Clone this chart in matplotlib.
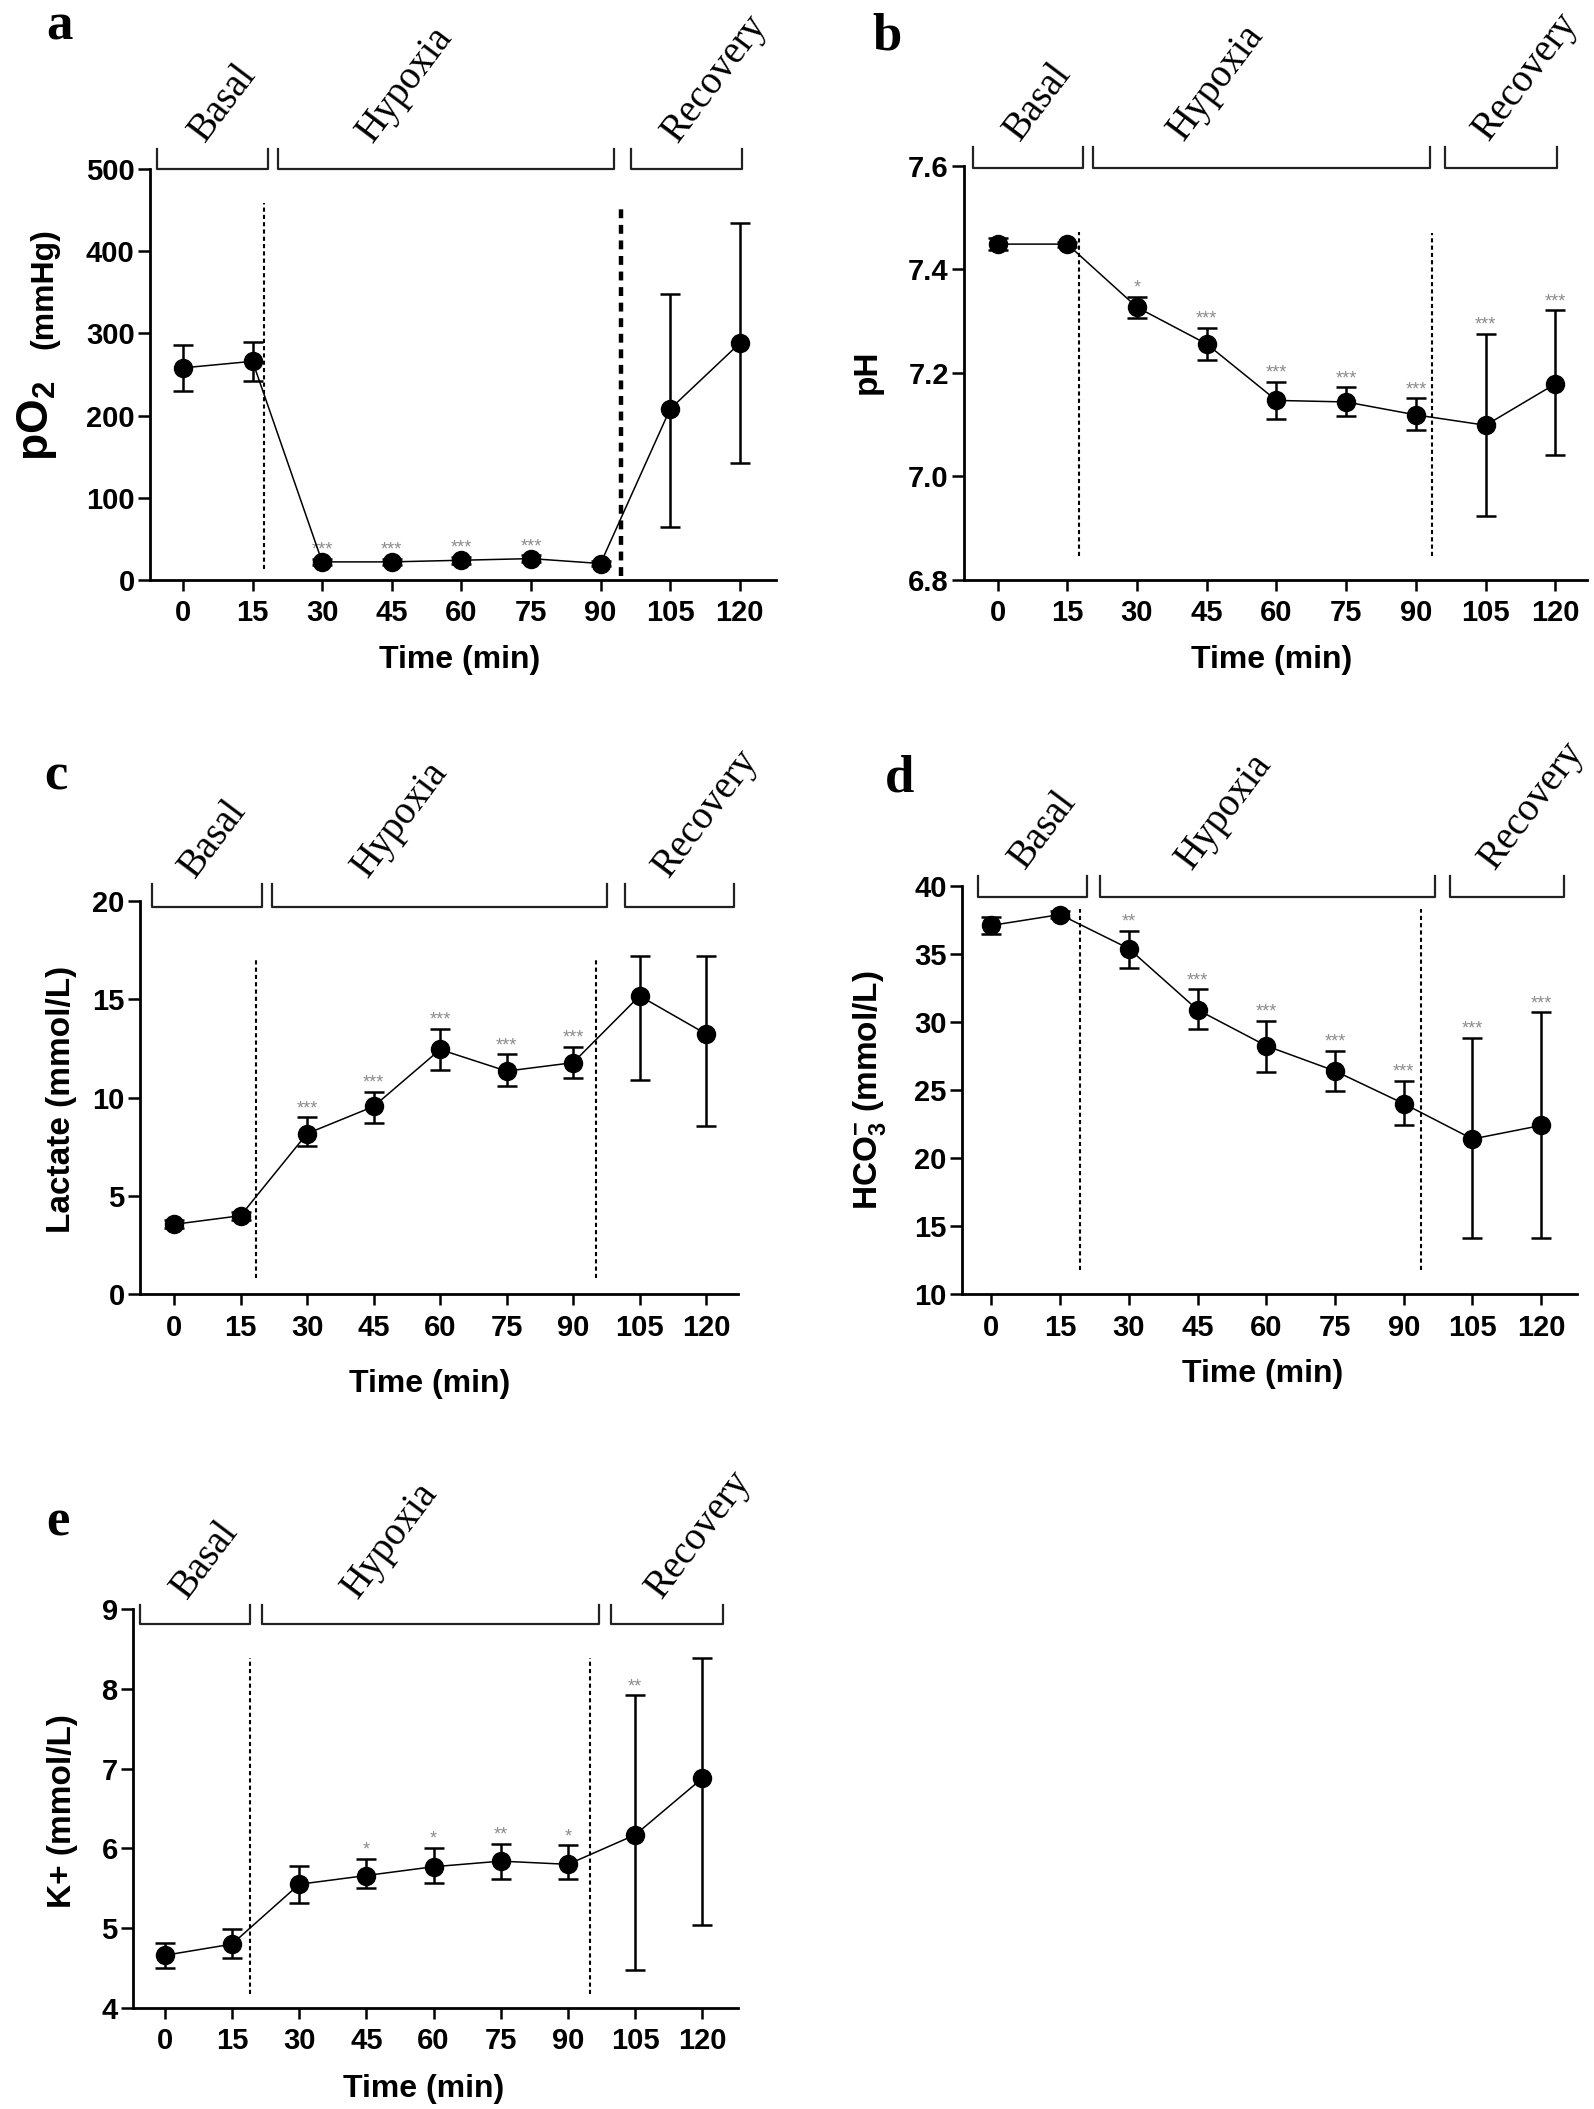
import matplotlib.pyplot as plt
from matplotlib import transforms

plt.rcParams['font.family'] = ['Liberation Sans', 'DejaVu Sans']
plt.rcParams['font.weight'] = 'bold'
plt.rcParams['axes.labelweight'] = 'bold'
plt.rcParams['mathtext.fontset'] = 'custom'
plt.rcParams['mathtext.rm'] = 'Liberation Sans:bold'
plt.rcParams['mathtext.bf'] = 'Liberation Sans:bold'
plt.rcParams['mathtext.it'] = 'Liberation Sans:bold'

time = [0, 15, 30, 45, 60, 75, 90, 105, 120]
phases = ['Basal', 'Hypoxia', 'Recovery']

# a: pO2 (mmHg)
po2_mean = [258, 266, 22, 22, 24, 26, 20, 208, 288]
po2_lo = [28, 24, 4, 4, 4, 4, 3, 144, 146]
po2_hi = [28, 24, 4, 4, 4, 4, 3, 140, 146]
po2_stars = ['', '', '***', '***', '***', '***', '', '', '']

# b: pH
ph_mean = [7.449, 7.449, 7.327, 7.256, 7.147, 7.144, 7.119, 7.099, 7.179]
ph_lo = [0.012, 0.005, 0.021, 0.030, 0.036, 0.028, 0.029, 0.175, 0.138]
ph_hi = [0.012, 0.005, 0.020, 0.031, 0.036, 0.028, 0.032, 0.177, 0.142]
ph_stars = ['', '', '*', '***', '***', '***', '***', '***', '***']

# c: lactate (mmol/L)
lac_mean = [3.55, 3.99, 8.17, 9.55, 12.45, 11.35, 11.78, 15.18, 13.24]
lac_lo = [0.2, 0.2, 0.65, 0.85, 1.05, 0.75, 0.78, 4.28, 4.67]
lac_hi = [0.2, 0.2, 0.83, 0.75, 1.05, 0.85, 0.82, 2.02, 3.96]
lac_stars = ['', '', '***', '***', '***', '***', '***', '', '']

# d: HCO3- (mmol/L)
hco3_mean = [37.1, 37.9, 35.4, 30.9, 28.25, 26.4, 24.0, 21.4, 22.4]
hco3_lo = [0.6, 0.25, 1.4, 1.4, 1.95, 1.5, 1.6, 7.3, 8.3]
hco3_hi = [0.6, 0.25, 1.3, 1.5, 1.85, 1.5, 1.7, 7.45, 8.3]
hco3_stars = ['', '', '**', '***', '***', '***', '***', '***', '***']

# e: K+ (mmol/L)
k_mean = [4.66, 4.80, 5.55, 5.66, 5.77, 5.84, 5.80, 6.17, 6.88]
k_lo = [0.16, 0.17, 0.23, 0.16, 0.20, 0.23, 0.19, 1.70, 1.84]
k_hi = [0.16, 0.19, 0.23, 0.21, 0.24, 0.22, 0.24, 1.75, 1.51]
k_stars = ['', '', '', '*', '*', '**', '*', '**', '']


def draw_panel(ax, mean, lo, hi, stars, cfg):
    ax.errorbar(time, mean, yerr=[lo, hi], fmt='o-', color='black', ms=13,
                lw=1.1, elinewidth=1.8, capsize=7, capthick=1.8, zorder=3)
    for t, m, h, s in zip(time, mean, hi, stars):
        if s:
            ax.annotate(s, (t, m + h), xytext=(0, 0), textcoords='offset points',
                        ha='center', va='bottom', color='#8c8c8c', fontsize=13,
                        fontweight='normal')
    for x, y0, y1, lw in cfg['vlines']:
        ax.plot([x, x], [y0, y1], color='black', lw=lw, ls=(0, (2, 1.5)), zorder=2)

    trans = transforms.blended_transform_factory(ax.transData, ax.transAxes)
    yb, yt = cfg['bracket_y']
    for (x0, x1), name, tx in zip(cfg['brackets'], phases, cfg['label_x']):
        ax.plot([x0, x0, x1, x1], [yt, yb, yb, yt], transform=trans,
                color='#222222', lw=1.6, clip_on=False)
        ax.text(tx, yt, name, transform=trans, rotation=53, ha='left', va='bottom',
                family='Liberation Serif', fontweight='normal', fontsize=28)

    ax.set_xlim(*cfg['xlim'])
    ax.set_ylim(*cfg['ylim'])
    ax.set_xticks(time)
    ax.set_yticks(cfg['yticks'])
    ax.set_yticklabels(cfg['yticklabels'])
    ax.tick_params(axis='both', direction='out', width=1.8, labelsize=21)
    ax.tick_params(axis='x', length=8, pad=6)
    ax.tick_params(axis='y', length=9, pad=2)
    for side in ['top', 'right']:
        ax.spines[side].set_visible(False)
    for side in ['left', 'bottom']:
        ax.spines[side].set_linewidth(2)

    ax.set_xlabel('Time (min)', fontsize=23, va='center')
    ax.xaxis.set_label_coords(*cfg['xlabel_pos'])
    if cfg['ylabel']:
        ax.set_ylabel(cfg['ylabel'], fontsize=24, va='center')
        ax.yaxis.set_label_coords(*cfg['ylabel_pos'])


fig = plt.figure(figsize=(15.94, 21.09), dpi=100)

panels = [
    dict(rect=[0.0941, 0.7250, 0.3927, 0.1949], data=(po2_mean, po2_lo, po2_hi, po2_stars),
         xlim=(-7.1, 127.8), ylim=(0, 500), yticks=[0, 100, 200, 300, 400, 500],
         yticklabels=['0', '100', '200', '300', '400', '500'],
         vlines=[(17.5, 13, 458, 1.5), (94.4, 5, 453, 3.2)],
         bracket_y=(1.0, 1.049), brackets=[(-5.6, 18.3), (20.5, 92.9), (96.6, 120.5)],
         label_x=(0, 36, 101.7), xlabel_pos=(0.494, -0.195), ylabel=None, ylabel_pos=None,
         letter='a', letter_pos=(46, 40)),
    dict(rect=[0.6048, 0.7250, 0.3908, 0.1963], data=(ph_mean, ph_lo, ph_hi, ph_stars),
         xlim=(-7.2, 126.8), ylim=(6.8, 7.6), yticks=[6.8, 7.0, 7.2, 7.4, 7.6],
         yticklabels=['6.8', '7.0', '7.2', '7.4', '7.6'],
         vlines=[(17.6, 6.846, 7.473, 1.5), (93.4, 6.846, 7.47, 1.5)],
         bracket_y=(0.995, 1.046), brackets=[(-5.2, 18.4), (20.6, 93.0), (96.2, 120.4)],
         label_x=(0, 35.3, 100.9), xlabel_pos=(0.494, -0.193), ylabel='pH',
         ylabel_pos=(-0.156, 0.502), letter='b', letter_pos=(872, 50)),
    dict(rect=[0.0878, 0.3864, 0.3752, 0.1863], data=(lac_mean, lac_lo, lac_hi, lac_stars),
         xlim=(-7.7, 127.2), ylim=(0, 20), yticks=[0, 5, 10, 15, 20],
         yticklabels=['0', '5', '10', '15', '20'],
         vlines=[(18.5, 0.8, 17.1, 1.5), (95.2, 0.8, 17.1, 1.5)],
         bracket_y=(0.985, 1.043), brackets=[(-5.0, 19.8), (22.1, 97.6), (101.7, 126.2)],
         label_x=(-0.3, 38.6, 106.6), xlabel_pos=(0.484, -0.23), ylabel='Lactate (mmol/L)',
         ylabel_pos=(-0.132, 0.496), letter='c', letter_pos=(44, 790)),
    dict(rect=[0.6035, 0.3864, 0.3858, 0.1935], data=(hco3_mean, hco3_lo, hco3_hi, hco3_stars),
         xlim=(-6.4, 127.8), ylim=(10, 40), yticks=[10, 15, 20, 25, 30, 35, 40],
         yticklabels=['10', '15', '20', '25', '30', '35', '40'],
         vlines=[(19.3, 11.75, 38.3, 1.5), (93.7, 11.75, 38.3, 1.5)],
         bracket_y=(0.973, 1.025), brackets=[(-2.8, 20.9), (23.7, 96.8), (100.2, 125.0)],
         label_x=(2.5, 38.8, 104.9), xlabel_pos=(0.489, -0.196),
         ylabel=r'HCO$_{3}^{-}$ (mmol/L)', ylabel_pos=(-0.151, 0.5),
         letter='d', letter_pos=(885, 791)),
    dict(rect=[0.0834, 0.0479, 0.3795, 0.1892], data=(k_mean, k_lo, k_hi, k_stars),
         xlim=(-7.1, 127.9), ylim=(4, 9), yticks=[4, 5, 6, 7, 8, 9],
         yticklabels=['4', '5', '6', '7', '8', '9'],
         vlines=[(19.0, 4.17, 8.38, 1.5), (94.9, 4.17, 8.38, 1.5)],
         bracket_y=(0.962, 1.01), brackets=[(-5.5, 19.0), (21.6, 97.0), (99.5, 124.6)],
         label_x=(0, 38, 105.8), xlabel_pos=(0.481, -0.203), ylabel='K+ (mmol/L)',
         ylabel_pos=(-0.117, 0.494), letter='e', letter_pos=(46, 1536)),
]

W, H = 1594, 2109
for cfg in panels:
    ax = fig.add_axes(cfg['rect'])
    mean, lo, hi, stars = cfg['data']
    draw_panel(ax, mean, lo, hi, stars, cfg)
    lx, ly = cfg['letter_pos']
    fig.text(lx / W, 1 - ly / H, cfg['letter'], family='Liberation Serif',
             fontweight='bold', fontsize=38, ha='left', va='baseline')
    if cfg['letter'] == 'a':
        ax.text(-0.18, 0.387, r'pO$_{2}$', transform=ax.transAxes, rotation=90,
                ha='center', va='center', fontsize=32)
        ax.text(-0.168, 0.708, '(mmHg)', transform=ax.transAxes, rotation=90,
                ha='center', va='center', fontsize=23)

fig.savefig('out.png', dpi=100)
